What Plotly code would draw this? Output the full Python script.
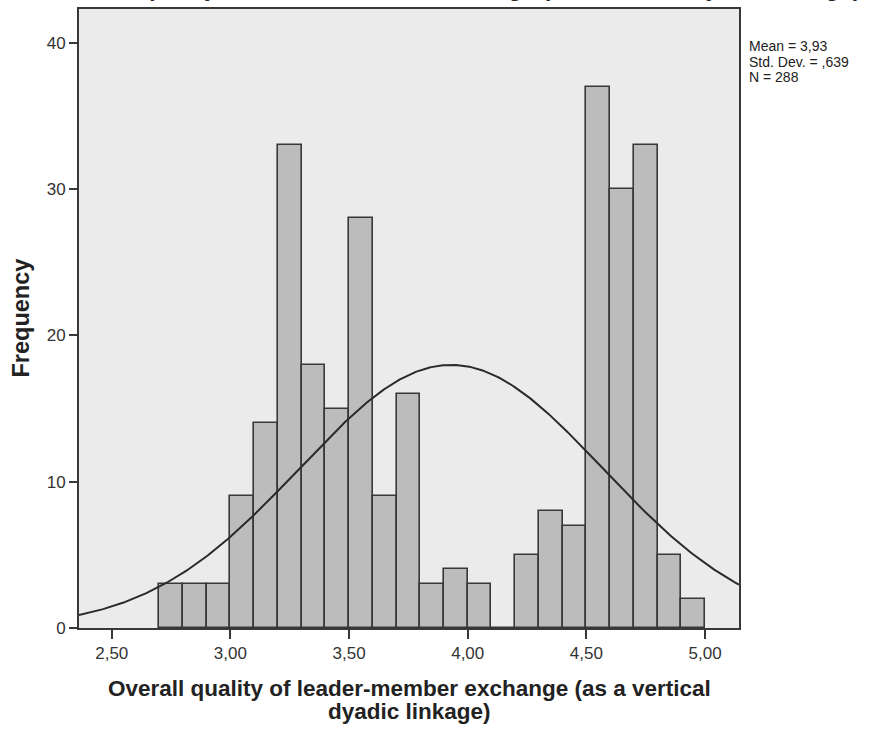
import numpy as np
import plotly.graph_objects as go

# Histogram bins (left edges) and frequencies
bin_left = [2.7, 2.8, 2.9, 3.0, 3.1, 3.2, 3.3, 3.4, 3.5, 3.6, 3.7, 3.8, 3.9, 4.0,
            4.1, 4.2, 4.3, 4.4, 4.5, 4.6, 4.7, 4.8, 4.9]
counts = [3, 3, 3, 9, 14, 33, 18, 15, 28, 9, 16, 3, 4, 3,
          0, 5, 8, 7, 37, 30, 33, 5, 2]
bin_width = 0.1

# Summary statistics
mean_val = 3.93
std_val = 0.639
n_total = 288
stats_lines = ["Mean = 3,93", "Std. Dev. = ,639", "N = 288"]

x_tickvals = [2.5, 3.0, 3.5, 4.0, 4.5, 5.0]
x_ticktext = ["2,50", "3,00", "3,50", "4,00", "4,50", "5,00"]
y_tickvals = [0, 10, 20, 30, 40]

x_range = [2.362, 5.143]
y_range = [0, 42.3]

title_text = "Overall quality of leader-member exchange (as a vertical dyadic linkage)"
x_title_lines = ["Overall quality of leader-member exchange (as a vertical",
                 "dyadic linkage)"]
y_title = "Frequency"

FONT = "Liberation Sans, Arial, sans-serif"
TEXT = "#222222"
LINE = "#383838"

centers = [b + bin_width / 2 for b in bin_left]

# Fitted normal curve scaled to counts
xs = np.linspace(x_range[0], x_range[1], 400)
ys = n_total * bin_width / (std_val * np.sqrt(2 * np.pi)) * np.exp(-0.5 * ((xs - mean_val) / std_val) ** 2)

fig = go.Figure()
fig.add_trace(go.Bar(
    x=centers, y=counts, width=bin_width,
    marker=dict(color="#bcbcbc", line=dict(color=LINE, width=1.6)),
    hoverinfo="x+y", showlegend=False,
))
fig.add_trace(go.Scatter(
    x=xs, y=ys, mode="lines",
    line=dict(color="#2a2a2a", width=2),
    showlegend=False, hoverinfo="skip",
))

annotations = []
# statistics box, one line per annotation for tight spacing
for i, s in enumerate(stats_lines):
    annotations.append(dict(
        text=s, xref="paper", yref="paper", x=1.0, y=1.0,
        xanchor="left", yanchor="middle", xshift=8, yshift=-37 - 15.5 * i,
        showarrow=False, font=dict(size=14, color=TEXT, family=FONT),
    ))
# x-axis title (two lines)
for i, s in enumerate(x_title_lines):
    annotations.append(dict(
        text="<b>" + s + "</b>", xref="paper", yref="paper", x=0.5, y=0.0,
        xanchor="center", yanchor="middle", yshift=-60 - 23 * i,
        showarrow=False, font=dict(size=22.5, color=TEXT, family=FONT),
    ))
# y-axis title
annotations.append(dict(
    text="<b>" + y_title + "</b>", xref="paper", yref="paper", x=0.0, y=0.5,
    xanchor="center", yanchor="middle", xshift=-59, textangle=-90,
    showarrow=False, font=dict(size=23.5, color=TEXT, family=FONT),
))
# chart title, running off the top edge
annotations.append(dict(
    text="<b>" + title_text + "</b>", xref="paper", yref="paper", x=0.575, y=1.0,
    xanchor="center", yanchor="bottom", yshift=6,
    showarrow=False, font=dict(size=23.5, color=TEXT, family=FONT),
))

fig.update_layout(
    width=878, height=729,
    margin=dict(l=79, r=139, t=7, b=101),
    paper_bgcolor="white",
    plot_bgcolor="#ebebeb",
    bargap=0,
    font=dict(family=FONT, color="#333333"),
    xaxis=dict(
        range=x_range, tickvals=x_tickvals, ticktext=x_ticktext,
        ticks="outside", ticklen=9, tickwidth=1.6, tickcolor=LINE,
        showline=True, linecolor=LINE, linewidth=1.8, mirror=True,
        showgrid=False, zeroline=False,
        tickfont=dict(size=17, color="#333333"),
    ),
    yaxis=dict(
        range=y_range, tickvals=y_tickvals,
        ticks="outside", ticklen=8, tickwidth=1.6, tickcolor=LINE,
        showline=True, linecolor=LINE, linewidth=1.8, mirror=True,
        showgrid=False, zeroline=False,
        tickfont=dict(size=17, color="#333333"),
    ),
    annotations=annotations,
)

fig.write_html("out.html")
